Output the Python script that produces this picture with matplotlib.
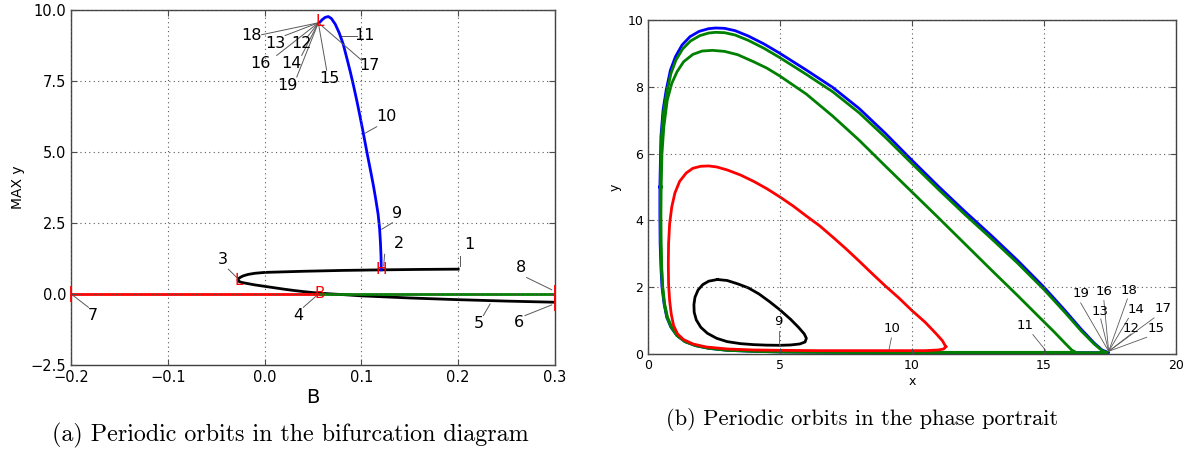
import numpy as np
import matplotlib
matplotlib.use("Agg")
from matplotlib import pyplot as plt

# ---- (a) bifurcation diagram: B vs MAX y ----
black_B = [0.2, 0.16, 0.121, 0.08, 0.04, 0.0, -0.01, -0.017, -0.022, -0.025,
           -0.027, -0.0275, -0.027, -0.024, -0.018, -0.01, 0.0, 0.01, 0.02, 0.03,
           0.04, 0.05, 0.057, 0.07, 0.08, 0.1, 0.15, 0.2, 0.25, 0.3]
black_y = [0.875, 0.865, 0.85, 0.83, 0.8, 0.76, 0.73, 0.69, 0.64, 0.59,
           0.54, 0.49, 0.45, 0.41, 0.37, 0.32, 0.27, 0.22, 0.17, 0.125,
           0.085, 0.05, 0.03, 0.0, -0.02, -0.065, -0.14, -0.2, -0.25, -0.29]
red_B = [-0.2, 0.057]
red_y = [0.0, 0.0]
green_B = [0.057, 0.3]
green_y = [0.0, 0.0]
blue_B = [0.1205, 0.1203, 0.1197, 0.1188, 0.1173, 0.115, 0.1125, 0.1097, 0.1068,
          0.104, 0.1012, 0.0983, 0.0953, 0.0921, 0.0887, 0.085, 0.0812, 0.077,
          0.073, 0.069, 0.0658, 0.0625, 0.0595, 0.057]
blue_y = [0.85, 1.3, 1.8, 2.3, 2.8, 3.3, 3.8, 4.3, 4.8,
          5.3, 5.8, 6.3, 6.8, 7.3, 7.8, 8.3, 8.8, 9.2,
          9.5, 9.7, 9.77, 9.74, 9.66, 9.57]

# special points (AUTO labels)
sp_label = ['L', 'H', 'B', 'L']
sp_B = [-0.027, 0.121, 0.057, 0.057]
sp_y = [0.49, 0.85, 0.0, 9.6]
ep_B = [-0.2, 0.3, 0.3]
ep_y = [0.0, 0.05, -0.33]

# numbered labels: text position, leader start, leader end
a_lab = ['1', '2', '3', '4', '5', '6', '7', '8', '9', '10', '11',
         '12', '13', '14', '15', '16', '17', '18', '19']
a_tx = [0.212, 0.139, -0.0427, 0.0348, 0.221, 0.263, -0.177, 0.2645, 0.137, 0.126,
        0.1037, 0.0383, 0.0107, 0.0279, 0.0668, -0.004, 0.108, -0.0134, 0.0235]
a_ty = [1.75, 1.79, 1.23, -0.76, -1.05, -0.99, -0.76, 0.93, 2.84, 6.24,
        9.10, 8.81, 8.81, 8.11, 7.59, 8.11, 8.05, 9.10, 7.35]
a_x0 = [0.2019, 0.124, -0.0375, 0.04, 0.226, 0.269, -0.182, 0.2707, 0.132, 0.1158,
        0.0951, 0.0435, 0.0211, 0.0383, 0.0641, 0.0125, 0.1003, -0.003, 0.0332]
a_y0 = [1.34, 1.40, 0.875, -0.47, -0.76, -0.76, -0.47, 0.58, 2.51, 5.89,
        9.07, 9.02, 9.10, 8.40, 7.88, 8.40, 8.23, 9.13, 7.64]
a_x1 = [0.2019, 0.123, -0.0288, 0.053, 0.233, 0.2966, -0.1976, 0.2966, 0.121, 0.1037,
        0.0796, 0.0555, 0.0555, 0.0555, 0.0555, 0.0555, 0.0555, 0.0555, 0.0555]
a_y1 = [0.99, 0.99, 0.58, -0.08, -0.35, -0.385, -0.06, 0.15, 2.28, 5.66,
        9.07, 9.55, 9.55, 9.55, 9.55, 9.55, 9.55, 9.55, 9.55]

# ---- (b) phase portrait orbits ----
orb9_x = [2.63, 3.0, 3.4, 3.8, 4.2, 4.6, 5.0, 5.4, 5.7, 5.92, 6.0, 5.95, 5.75,
          5.4, 5.0, 4.5, 4.0, 3.5, 3.0, 2.6, 2.25, 2.0, 1.83, 1.75, 1.74, 1.78,
          1.9, 2.08, 2.3, 2.63]
orb9_y = [2.23, 2.2, 2.1, 1.98, 1.8, 1.57, 1.32, 1.04, 0.8, 0.6, 0.47, 0.36, 0.3,
          0.27, 0.26, 0.265, 0.28, 0.31, 0.37, 0.47, 0.62, 0.8, 1.02, 1.25, 1.48, 1.7,
          1.92, 2.08, 2.18, 2.23]

orb10_x = [11.28, 11.15, 10.9, 10.5, 10.0, 9.5, 9.0, 8.5, 8.0, 7.5, 7.0, 6.5, 6.0,
           5.5, 5.0, 4.5, 4.0, 3.5, 3.0, 2.6, 2.3, 2.0, 1.7, 1.45, 1.2, 1.02, 0.9,
           0.82, 0.78, 0.77, 0.78, 0.82, 0.88, 0.97, 1.12, 1.35, 1.7, 2.2, 3.0, 4.0,
           5.0, 6.5, 8.0, 9.5, 10.5, 11.0, 11.2, 11.28]
orb10_y = [0.22, 0.4, 0.62, 0.95, 1.3, 1.68, 2.03, 2.4, 2.78, 3.15, 3.5, 3.84, 4.13,
           4.43, 4.7, 4.95, 5.17, 5.36, 5.51, 5.6, 5.63, 5.62, 5.56, 5.42, 5.17, 4.82, 4.4,
           3.9, 3.3, 2.7, 2.1, 1.6, 1.2, 0.85, 0.6, 0.43, 0.3, 0.21, 0.15, 0.12,
           0.11, 0.1, 0.1, 0.1, 0.1, 0.12, 0.15, 0.22]

orb11_x = [0.5, 0.53, 0.6, 0.73, 0.9, 1.1, 1.35, 1.7, 2.05, 2.44, 2.9, 3.4, 4.0,
           4.5, 5.0, 6.0, 7.0, 8.0, 9.0, 10.0, 11.0, 12.0, 13.0, 14.0, 14.8, 15.4,
           15.8, 16.05, 16.2, 12.0, 8.0, 5.0, 4.0, 3.0, 2.3, 1.8, 1.4, 1.1, 0.9,
           0.74, 0.63, 0.56, 0.52, 0.5, 0.49, 0.5]
orb11_y = [5.0, 6.0, 6.8, 7.6, 8.1, 8.45, 8.75, 8.97, 9.07, 9.09, 9.06, 8.96, 8.75,
           8.56, 8.32, 7.78, 7.12, 6.4, 5.62, 4.85, 4.08, 3.3, 2.52, 1.75, 1.12, 0.65,
           0.32, 0.12, 0.05, 0.05, 0.05, 0.07, 0.09, 0.12, 0.18, 0.26, 0.38, 0.56, 0.8,
           1.1, 1.5, 2.0, 2.6, 3.3, 4.2, 5.0]

orb12_x = [0.47, 0.51, 0.59, 0.71, 0.87, 1.06, 1.31, 1.61, 1.96, 2.3, 2.56, 2.9, 3.3,
           3.8, 4.4, 5.0, 6.0, 7.0, 8.0, 9.0, 10.0, 11.0, 12.0, 13.0, 14.0, 15.0,
           15.8, 16.4, 16.9, 17.2, 17.4, 14.0, 10.0, 7.0, 5.0, 4.0, 3.0, 2.3, 1.8,
           1.4, 1.1, 0.88, 0.72, 0.62, 0.55, 0.51, 0.48, 0.47, 0.47]
orb12_y = [5.0, 6.5, 7.25, 7.82, 8.4, 8.8, 9.13, 9.37, 9.53, 9.61, 9.63, 9.62, 9.55,
           9.39, 9.15, 8.87, 8.37, 7.85, 7.22, 6.48, 5.7, 4.93, 4.18, 3.46, 2.72, 1.93,
           1.24, 0.7, 0.3, 0.1, 0.04, 0.04, 0.04, 0.05, 0.06, 0.08, 0.11, 0.17, 0.25,
           0.37, 0.55, 0.8, 1.1, 1.5, 2.0, 2.6, 3.3, 4.2, 5.0]

orb19_x = [0.45, 0.49, 0.57, 0.69, 0.85, 1.04, 1.29, 1.59, 1.94, 2.3, 2.56, 2.9, 3.3,
           3.8, 4.4, 5.0, 6.0, 7.0, 8.0, 9.0, 10.0, 11.0, 12.0, 13.0, 14.0, 15.0,
           15.8, 16.4, 16.9, 17.2, 17.45, 14.0, 10.0, 7.0, 5.0, 4.0, 3.0, 2.3, 1.8,
           1.4, 1.1, 0.87, 0.71, 0.61, 0.53, 0.49, 0.46, 0.45, 0.45]
orb19_y = [5.0, 6.5, 7.3, 7.9, 8.5, 8.9, 9.25, 9.5, 9.66, 9.74, 9.76, 9.75, 9.68,
           9.52, 9.28, 9.0, 8.5, 7.98, 7.35, 6.6, 5.8, 5.02, 4.27, 3.55, 2.8, 2.0,
           1.3, 0.75, 0.33, 0.12, 0.04, 0.04, 0.04, 0.05, 0.06, 0.08, 0.11, 0.17, 0.25,
           0.37, 0.55, 0.8, 1.1, 1.5, 2.0, 2.6, 3.3, 4.2, 5.0]

b_lab = ['9', '10', '11', '19', '16', '18', '13', '14', '17', '12', '15']
b_tx = [4.92, 9.26, 14.27, 16.39, 17.27, 18.22, 17.12, 18.47, 19.5, 18.28, 19.23]
b_ty = [0.98, 0.76, 0.85, 1.8, 1.88, 1.91, 1.28, 1.33, 1.35, 0.76, 0.76]
b_x0 = [4.96, 9.22, 14.58, 16.39, 17.27, 18.16, 17.15, 18.2, 19.17, 18.3, 18.89]
b_y0 = [0.70, 0.48, 0.58, 1.53, 1.6, 1.65, 1.05, 1.07, 1.08, 0.6, 0.5]
b_x1 = [4.96, 9.13, 15.06, 17.45, 17.45, 17.45, 17.45, 17.45, 17.45, 17.45, 17.45]
b_y1 = [0.26, 0.13, 0.11, 0.08, 0.08, 0.08, 0.08, 0.08, 0.08, 0.08, 0.08]


def style_axes(ax, size):
    ax.grid(True, linestyle=(0, (1, 3)), color='0.35', linewidth=0.8)
    ax.set_axisbelow(False)
    ax.tick_params(direction='in', top=True, right=True, length=4,
                   labelsize=size, color='0.3')
    for s in ax.spines.values():
        s.set_color('0.25')
        s.set_linewidth(1.0)


fig = plt.figure(figsize=(11.94, 4.51), dpi=100)

# ---------- left panel ----------
ax1 = fig.add_axes([0.0595, 0.1907, 0.4053, 0.7871])
ax1.plot(black_B, black_y, color='k', lw=2)
ax1.plot(red_B, red_y, color='#ff0000', lw=2)
ax1.plot(green_B, green_y, color='#008000', lw=2)
ax1.plot(blue_B, blue_y, color='#0000ff', lw=2)
for lab, bx, by in zip(sp_label, sp_B, sp_y):
    ax1.text(bx, by, lab, color='#ff0000', fontsize=11, ha='center', va='center', zorder=5)
ax1.plot(ep_B, ep_y, linestyle='none', marker='|', markersize=12, mew=1.3,
         color='#ff0000', clip_on=False, zorder=5)
for i in range(len(a_lab)):
    ax1.plot([a_x0[i], a_x1[i]], [a_y0[i], a_y1[i]], color='0.35', lw=0.7, zorder=4)
    ax1.text(a_tx[i], a_ty[i], a_lab[i], fontsize=11.5, ha='center', va='center', zorder=5)
ax1.set_xlim(-0.2, 0.3)
ax1.set_ylim(-2.5, 10)
ax1.set_xticks([-0.2, -0.1, 0.0, 0.1, 0.2, 0.3])
ax1.set_yticks([-2.5, 0.0, 2.5, 5.0, 7.5, 10.0])
ax1.set_xlabel('B', fontsize=14, labelpad=2)
ax1.set_ylabel('MAX y', fontsize=10)
style_axes(ax1, 10.5)

# ---------- right panel ----------
ax2 = fig.add_axes([0.5427, 0.2151, 0.4422, 0.7406])
ax2.plot(orb19_x, orb19_y, color='#0000ff', lw=2)
ax2.plot(orb12_x, orb12_y, color='#008000', lw=2)
ax2.plot(orb11_x, orb11_y, color='#008000', lw=2)
ax2.plot(orb10_x, orb10_y, color='#ff0000', lw=2)
ax2.plot(orb9_x, orb9_y, color='k', lw=2)
for i in range(len(b_lab)):
    ax2.plot([b_x0[i], b_x1[i]], [b_y0[i], b_y1[i]], color='0.35', lw=0.6, zorder=4)
    ax2.text(b_tx[i], b_ty[i], b_lab[i], fontsize=9.5, ha='center', va='center', zorder=5)
ax2.set_xlim(0, 20)
ax2.set_ylim(0, 10)
ax2.set_xticks([0, 5, 10, 15, 20])
ax2.set_yticks([0, 2, 4, 6, 8, 10])
ax2.set_xlabel('x', fontsize=9, labelpad=2)
ax2.set_ylabel('y', fontsize=9, labelpad=4)
style_axes(ax2, 9)

fig.text(0.243, 0.0355, '(a) Periodic orbits in the bifurcation diagram',
         family='cmr10', fontsize=17.3, ha='center', va='center')
fig.text(0.722, 0.069, '(b) Periodic orbits in the phase portrait',
         family='cmr10', fontsize=16.2, ha='center', va='center')

fig.savefig('out.png', dpi=100)
